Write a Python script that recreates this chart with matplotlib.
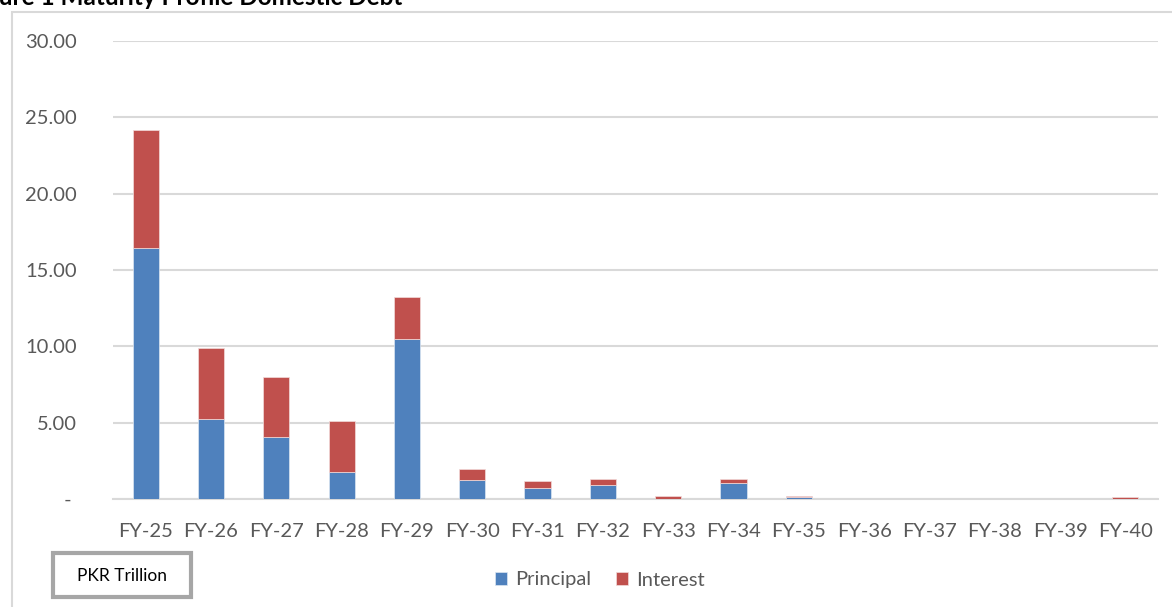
import matplotlib.pyplot as plt
import numpy as np
from matplotlib.patches import Rectangle

years = ['FY-25', 'FY-26', 'FY-27', 'FY-28', 'FY-29', 'FY-30', 'FY-31', 'FY-32',
         'FY-33', 'FY-34', 'FY-35', 'FY-36', 'FY-37', 'FY-38', 'FY-39', 'FY-40']
principal = [16.46, 5.22, 4.08, 1.79, 10.48, 1.22, 0.74, 0.90,
             0.03, 1.07, 0.10, 0.0, 0.0, 0.0, 0.0, 0.0]
interest = [7.71, 4.69, 3.93, 3.34, 2.77, 0.72, 0.46, 0.41,
            0.17, 0.24, 0.10, 0.0, 0.0, 0.0, 0.0, 0.12]
yticks = [0, 5, 10, 15, 20, 25, 30]
ytick_labels = [' - ', '5.00', '10.00', '15.00', '20.00', '25.00', '30.00']

blue = '#4F81BD'
red = '#C0504D'
grid_col = '#D9D9D9'
text_col = '#595959'

plt.rcParams['font.family'] = ['Lato', 'DejaVu Sans']

W, H = 1172, 607
fig = plt.figure(figsize=(W / 100, H / 100), dpi=100)

# outer chart frame
fig.add_artist(Rectangle((12 / W, -0.1), 1.2, (H - 12) / H + 0.1,
                         transform=fig.transFigure, fill=False,
                         edgecolor='#D9D9D9', linewidth=1.5))

# title, cropped at the top-left like the source screenshot
title_kw = dict(fontsize=17.5, fontweight='bold', color='black')
renderer = fig.canvas.get_renderer()
probe = fig.text(0, 0, 'Fig', **title_kw)
hidden_w = probe.get_window_extent(renderer).width
probe.remove()
fig.text(-(hidden_w + 1) / W, 1 - 5 / H, 'Figure 1 Maturity Profile Domestic Debt',
         ha='left', va='baseline', **title_kw)

ax = fig.add_axes([113 / W, (H - 499) / H, (1158 - 113) / W, (499 - 41) / H])

x = np.arange(len(years))
ax.bar(x, principal, width=0.4, color=blue, edgecolor='#DCE6F2', linewidth=0.5,
       label='Principal', zorder=3)
ax.bar(x, interest, width=0.4, bottom=principal, color=red, edgecolor='#F2DCDB',
       linewidth=0.5, label='Interest', zorder=3)

ax.set_xlim(-0.5, len(years) - 0.5)
ax.set_ylim(0, 30)
ax.set_yticks(yticks)
ax.set_yticklabels(ytick_labels)
ax.set_xticks(x)
ax.set_xticklabels(years)
ax.yaxis.grid(True, color=grid_col, linewidth=1.5, zorder=0)
for s in ['top', 'right', 'left']:
    ax.spines[s].set_visible(False)
ax.spines['bottom'].set_color(grid_col)
ax.spines['bottom'].set_linewidth(1.5)
ax.tick_params(axis='both', length=0, colors=text_col, labelsize=14.5)
ax.tick_params(axis='y', pad=26)
ax.tick_params(axis='x', pad=17)

# unit box
fig.add_artist(Rectangle((53 / W, (H - 597) / H), 138 / W, 44 / H,
                         transform=fig.transFigure, fill=True, facecolor='white',
                         edgecolor='#A6A6A6', linewidth=3))
fig.text(122 / W, (H - 576) / H, 'PKR Trillion', fontsize=12.5, color='black',
         ha='center', va='center')

leg = ax.legend(loc='center', bbox_to_anchor=(600 / W, (H - 580) / H),
                bbox_transform=fig.transFigure, ncol=2, frameon=False,
                fontsize=14.5, handlelength=0.6, handleheight=0.6,
                handletextpad=0.4, columnspacing=1.2, labelcolor=text_col)

fig.savefig('out.png', dpi=100, facecolor='white')
